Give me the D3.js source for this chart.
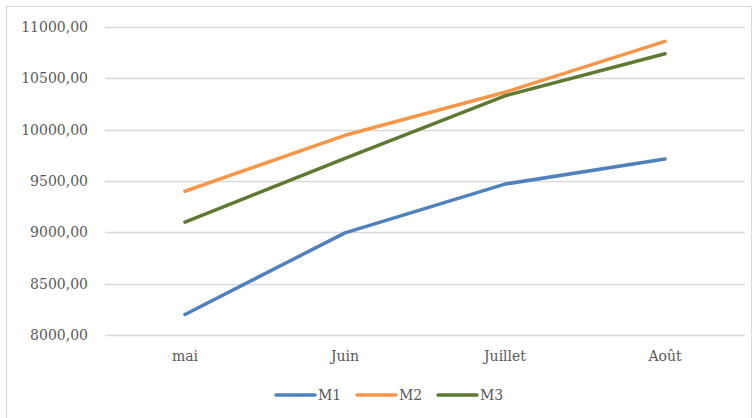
<!DOCTYPE html>
<html>
<head>
<meta charset="utf-8">
<script src="https://cdn.jsdelivr.net/npm/d3@7"></script>
<style>
  body { margin: 0; background: #fff; }
  text { font-family: "DejaVu Serif", "Liberation Serif", serif; fill: #595959; }
</style>
</head>
<body>
<div id="chart"></div>
<script>
var months = ["mai", "Juin", "Juillet", "Août"];
var m1 = [8200, 8995, 9470, 9715];
var m2 = [9400, 9945, 10365, 10860];
var m3 = [9100, 9720, 10330, 10740];
var seriesNames = ["M1", "M2", "M3"];
var seriesColors = ["#4f81bd", "#f79646", "#5e7a30"];
var yTicks = [8000, 8500, 9000, 9500, 10000, 10500, 11000];

var props = { width: 753, height: 418, left: 105, right: 745, top: 27, bottom: 335 };

var svg = d3.select("#chart").append("svg")
  .attr("width", props.width)
  .attr("height", props.height);

// chart area frame
svg.append("rect")
  .attr("x", 6.5).attr("y", 6.5)
  .attr("width", props.width - 8).attr("height", props.height)
  .style("fill", "none").style("stroke", "#d9d9d9");

var x = d3.scaleBand().domain(months).range([props.left, props.right]);
var y = d3.scaleLinear().domain([8000, 11000]).range([props.bottom, props.top]);

var fmt = function(v){ return d3.format(".2f")(v).replace(".", ","); };

// grid
svg.append("g").selectAll("line")
  .data(yTicks).enter().append("line")
  .attr("x1", props.left).attr("x2", props.right)
  .attr("y1", function(d){ return Math.round(y(d)) + 0.5; })
  .attr("y2", function(d){ return Math.round(y(d)) + 0.5; })
  .style("stroke", "#d9d9d9").style("stroke-width", 1.3);

// y labels
svg.append("g").selectAll("text")
  .data(yTicks).enter().append("text")
  .attr("x", 88)
  .attr("y", function(d){ return y(d) + 5; })
  .attr("text-anchor", "end")
  .style("font-size", "14px")
  .text(fmt);

// x labels
svg.append("g").selectAll("text")
  .data(months).enter().append("text")
  .attr("x", function(d){ return x(d) + x.bandwidth() / 2; })
  .attr("y", 361)
  .attr("text-anchor", "middle")
  .style("font-size", "14px")
  .text(function(d){ return d; });

var seriesData = [m1, m2, m3];
var line = d3.line()
  .x(function(d, i){ return x(months[i]) + x.bandwidth() / 2; })
  .y(function(d){ return y(d); });

svg.append("g").selectAll("path")
  .data(seriesData).enter().append("path")
  .attr("d", function(d){ return line(d); })
  .style("fill", "none")
  .style("stroke", function(d, i){ return seriesColors[i]; })
  .style("stroke-width", 3.5)
  .style("stroke-linecap", "round")
  .style("stroke-linejoin", "round");

// legend
var legend = svg.append("g").selectAll("g")
  .data(seriesNames).enter().append("g")
  .attr("transform", function(d, i){ return "translate(" + (276 + i * 81) + ",395)"; });

legend.append("line")
  .attr("x1", 0).attr("x2", 39).attr("y1", 0).attr("y2", 0)
  .style("stroke", function(d, i){ return seriesColors[i]; })
  .style("stroke-width", 3.5)
  .style("stroke-linecap", "round");

legend.append("text")
  .attr("x", 42).attr("y", 5)
  .style("font-size", "14px")
  .text(function(d){ return d; });
</script>
</body>
</html>
